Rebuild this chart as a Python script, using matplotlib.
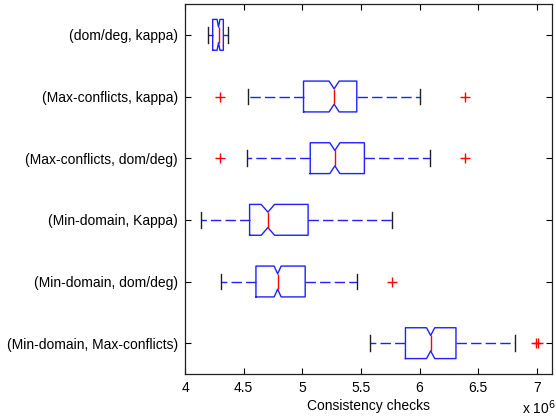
import matplotlib
matplotlib.use("Agg")
import matplotlib.pyplot as plt

plt.rcParams["font.family"] = ["Liberation Sans", "DejaVu Sans"]

# values in units of 10^6 consistency checks, top row first
labels = ["(dom/deg, kappa)", "(Max-conflicts, kappa)", "(Max-conflicts, dom/deg)",
          "(Min-domain, Kappa)", "(Min-domain, dom/deg)", "(Min-domain, Max-conflicts)"]
whislo = [4.193, 4.540, 4.528, 4.136, 4.304, 5.576]
q1 = [4.236, 5.011, 5.068, 4.551, 4.605, 5.880]
med = [4.286, 5.272, 5.278, 4.707, 4.790, 6.095]
q3 = [4.327, 5.465, 5.530, 5.050, 5.025, 6.311]
whishi = [4.369, 6.007, 6.090, 5.766, 5.465, 6.814]
notch = [0.012, 0.043, 0.043, 0.057, 0.030, 0.035]
fliers = [[], [4.30, 6.385], [4.30, 6.385], [], [5.769], [6.995, 7.008]]

stats = []
for i in range(len(labels)):
    stats.append(dict(label=labels[i], whislo=whislo[i], q1=q1[i], med=med[i],
                      q3=q3[i], whishi=whishi[i], fliers=fliers[i],
                      cilo=med[i] - notch[i], cihi=med[i] + notch[i]))

fig = plt.figure(figsize=(5.56, 4.2), dpi=100)
ax = fig.add_axes([185 / 556, 1 - 374 / 420, 367 / 556, 370 / 420])

positions = list(range(len(labels), 0, -1))
ax.bxp(stats, positions=positions, orientation="horizontal", shownotches=True,
       widths=0.5, capwidths=0.25,
       boxprops=dict(color="#2020ff", linewidth=1.0),
       whiskerprops=dict(color="#2020ff", linewidth=1.0, linestyle=(0, (7.5, 3))),
       capprops=dict(color="#202020", linewidth=1.0),
       medianprops=dict(color="red", linewidth=1.0),
       flierprops=dict(marker="+", markeredgecolor="red", markersize=7,
                       markeredgewidth=1.0, linestyle="none"))

ax.set_xlim(4, 7.13)
ax.set_ylim(0.5, 6.5)
ax.set_xticks([4, 4.5, 5, 5.5, 6, 6.5, 7])
ax.set_xticklabels(["4", "4.5", "5", "5.5", "6", "6.5", "7"])
ax.set_yticks(positions)
ax.set_yticklabels(labels)
ax.tick_params(direction="in", top=True, right=True, length=4, width=0.8,
               labelsize=10, pad=5)
for s in ax.spines.values():
    s.set_linewidth(0.9)
    s.set_color("#202020")
ax.set_xlabel("Consistency checks", fontsize=10, labelpad=3)
fig.text(522 / 556, 1 - 414 / 420, r"x 10$^{6}$", fontsize=10, ha="left", va="baseline")

fig.savefig("out.png", dpi=100)
